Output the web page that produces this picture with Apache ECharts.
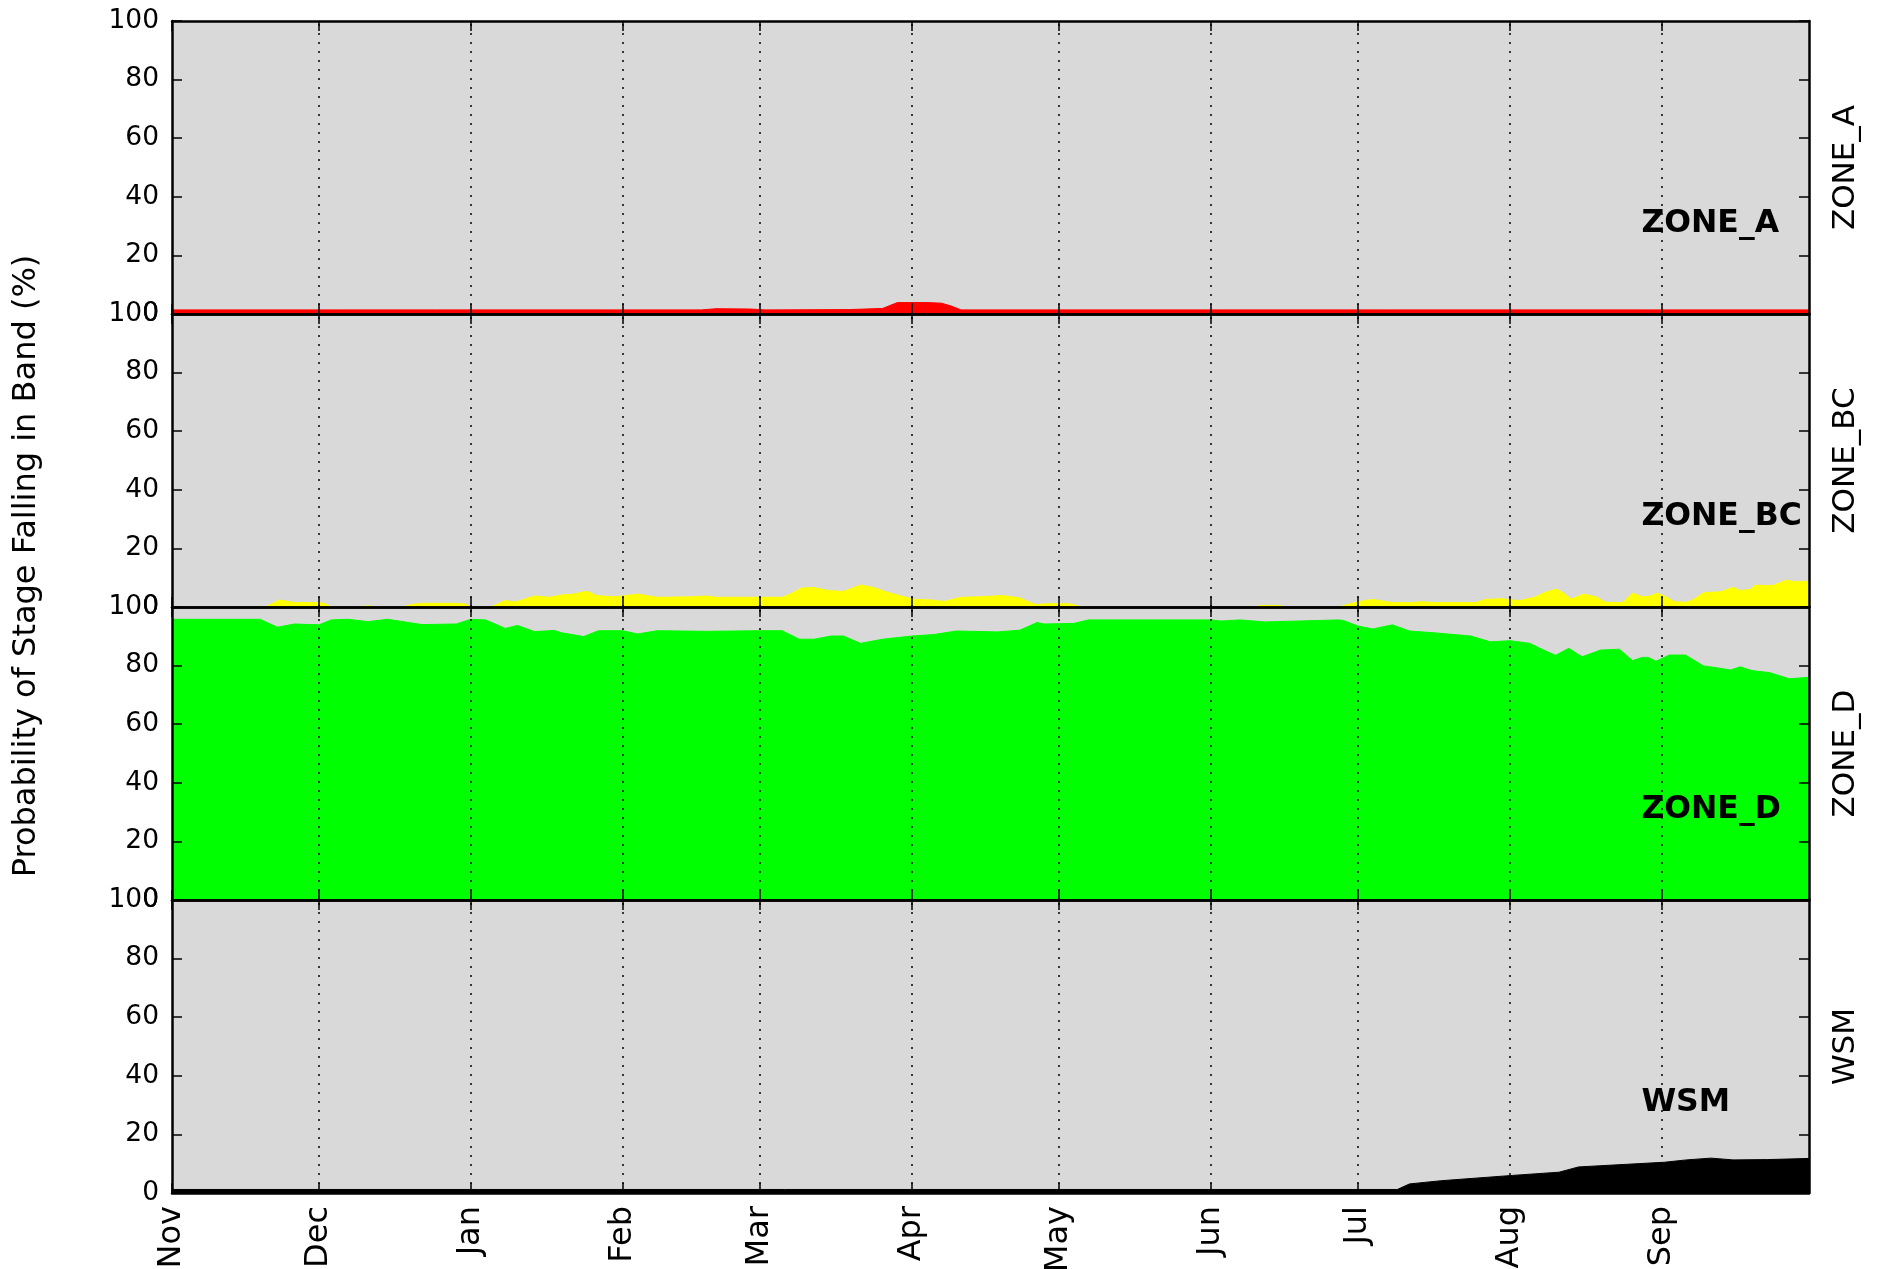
<!DOCTYPE html>
<html><head><meta charset="utf-8">
<script src="https://cdn.jsdelivr.net/npm/echarts@6/dist/echarts.min.js"></script>
<style>html,body{margin:0;padding:0;background:#fff}#c{width:1887px;height:1269px}</style>
</head><body><div id="c"></div>
<script>
// x axis: days counted from Nov 1 (non-leap year), ends Sep 30
const monthNames = ['Nov','Dec','Jan','Feb','Mar','Apr','May','Jun','Jul','Aug','Sep'];
const monthStartDays = [0,30,61,92,120,151,181,212,242,273,304];
const dayMax = 334;
const yTickValues = [0,20,40,60,80,100];

const zoneNames = ['ZONE_A','ZONE_BC','ZONE_D','WSM'];
const zoneColors = ['#ff0000','#ffff00','#00ff00','#000000'];

const zoneADays   = [0, 108, 111, 118, 121, 138, 145, 148, 154, 157, 159, 161, 334];
const zoneAValues = [1.4, 1.4, 1.8, 1.7, 1.4, 1.5, 1.9, 3.9, 3.9, 3.7, 2.7, 1.4, 1.4];

const zoneBCDays = [0, 19, 22, 25, 30, 31, 32.5, 38, 40, 42, 47, 49, 51, 58, 60, 61, 65, 68, 70, 71, 74, 77, 79.5, 82, 84, 85, 86.5, 90, 92, 95, 99, 106.5, 109, 111, 120, 124.5, 126.5, 128.5, 131, 134, 137, 140.5, 143, 146, 150, 151.5, 155, 157.5, 161, 165, 169.5, 173, 175.5, 176.5, 178, 183, 185, 186, 221, 222, 226, 227, 238, 242, 245, 249, 253, 255, 257.5, 266, 268, 271.5, 273.5, 275, 278, 280, 282.3, 283.5, 285.5, 288, 290.5, 292.5, 296, 298, 300, 301.5, 303, 304.5, 306.5, 309, 310.5, 312.5, 316, 318.5, 320, 322, 323, 326.5, 329.5, 331, 334];
const zoneBCValues = [0, 0, 2.4, 1.5, 1.5, 1.25, 0, 0, 0.4, 0, 0, 0.9, 1.25, 1.25, 1, 0, 0, 2.2, 1.7, 2.2, 3.75, 3.3, 4.1, 4.4, 5.2, 5.2, 3.9, 3.5, 3.75, 4.4, 3.3, 3.5, 3.75, 3.3, 3.3, 3.3, 4.7, 6.5, 6.6, 5.6, 5.3, 7.5, 6.7, 5, 3.2, 2.6, 2.4, 1.9, 3.3, 3.5, 3.9, 3.1, 1.25, 0.8, 1.1, 1.1, 0.3, 0, 0, 0.5, 0.5, 0, 0, 1.8, 2.6, 1.5, 1.5, 1.8, 1.5, 1.5, 2.6, 2.8, 2.4, 2.2, 3.3, 4.9, 6.1, 5.3, 2.7, 4.4, 3.5, 1.6, 1.5, 4.7, 3.5, 3.7, 4.7, 3.75, 1.8, 1.6, 2.6, 4.9, 5.2, 6.7, 5.6, 6, 7.4, 7.3, 9.2, 8.6, 8.8];

const zoneDDays = [0, 18, 21.5, 25, 30, 32.5, 36, 40, 44, 51, 58, 61, 64, 68, 70.5, 74, 78, 79.5, 84, 87, 92, 95, 99, 109, 120, 124.5, 128, 131, 134.5, 137, 140.5, 145, 151, 155.5, 160, 168.5, 173, 176.5, 178, 184, 187, 212, 214, 218, 223, 238, 239, 242, 245, 249, 252.5, 257.5, 265, 269, 273, 277, 279.5, 282.3, 285, 287.7, 291.5, 295.3, 298, 300, 301.2, 302.8, 305.5, 308.8, 312.5, 315.8, 318, 320, 322.3, 326, 330, 334];
const zoneDValues = [95.8, 95.8, 93.1, 94.2, 93.9, 95.6, 95.8, 95, 95.8, 94, 94.2, 95.8, 95.6, 92.7, 93.7, 91.6, 92, 91.2, 89.9, 91.9, 91.9, 90.8, 91.9, 91.7, 91.9, 91.9, 89, 89, 90.1, 90.1, 87.6, 89, 90.1, 90.6, 91.8, 91.5, 92.1, 94.7, 94.2, 94.4, 95.6, 95.6, 95.2, 95.6, 94.9, 95.6, 95.4, 93.5, 92.5, 93.9, 91.8, 91.2, 90.1, 88.1, 88.5, 87.6, 85.6, 83.5, 85.9, 83, 85.3, 85.6, 81.7, 82.8, 82.8, 81.5, 83.6, 83.6, 79.9, 79.1, 78.5, 79.6, 78.3, 77.6, 75.5, 76];

const wsmDays   = [0, 250, 252.5, 259, 273.5, 283, 287, 304.5, 309, 314, 318.5, 325.5, 334];
const wsmValues = [1.2, 1.2, 3.1, 4.2, 6, 7.1, 8.9, 10.5, 11.3, 11.9, 11.3, 11.4, 11.8];

const labelDay = 299.8;
const labelValue = 30.8;
const yAxisTitle = 'Probability of Stage Falling in Band (%)';

const panels = [
  {name: zoneNames[0], color: zoneColors[0], days: zoneADays, values: zoneAValues},
  {name: zoneNames[1], color: zoneColors[1], days: zoneBCDays, values: zoneBCValues},
  {name: zoneNames[2], color: zoneColors[2], days: zoneDDays, values: zoneDValues},
  {name: zoneNames[3], color: zoneColors[3], days: wsmDays, values: wsmValues}
];

const FONT = 'DejaVu Sans';
const top0 = 21, ph = 293;
const grids = [], xAxes = [], yAxes = [], series = [];
const frameLine = {show: true, onZero: false, lineStyle: {color: '#000', width: 2.5}};
const tickStyle = {color: '#000', width: 1.5};

panels.forEach((p, i) => {
  grids.push({left: 172, right: 78, top: top0 + i * ph, height: ph, show: true,
    containLabel: false, outerBoundsMode: 'none',
    backgroundColor: '#d9d9d9', borderWidth: 0});
  const monthLabel = v => { const k = monthStartDays.indexOf(Math.round(v)); return k >= 0 ? monthNames[k] : ''; };
  xAxes.push({type: 'value', gridIndex: i, min: 0, max: dayMax, position: 'bottom', z: 5,
    axisLine: frameLine,
    axisTick: {show: true, inside: true, length: 10, customValues: monthStartDays, lineStyle: tickStyle},
    axisLabel: {show: i === 3, customValues: monthStartDays, rotate: 90, formatter: monthLabel,
      fontSize: 32, color: '#000', fontFamily: FONT, margin: 13},
    splitLine: {show: false}});
  xAxes.push({type: 'value', gridIndex: i, min: 0, max: dayMax, position: 'top', z: 5,
    axisLine: frameLine,
    axisTick: {show: true, inside: true, length: 10, customValues: monthStartDays, lineStyle: tickStyle},
    axisLabel: {show: false}, splitLine: {show: false}});
  yAxes.push({type: 'value', gridIndex: i, min: 0, max: 100, interval: 20, position: 'left', z: 5,
    axisLine: frameLine,
    axisTick: {show: true, inside: true, length: 10, lineStyle: tickStyle},
    axisLabel: {show: true, fontSize: 26.5, color: '#000', fontFamily: FONT, margin: 13,
      showMinLabel: true, showMaxLabel: true},
    splitLine: {show: false}});
  yAxes.push({type: 'value', gridIndex: i, min: 0, max: 100, interval: 20, position: 'right', z: 5,
    axisLine: frameLine,
    axisTick: {show: true, inside: true, length: 10, lineStyle: tickStyle},
    axisLabel: {show: false}, splitLine: {show: false},
    name: p.name, nameLocation: 'middle', nameRotate: 90, nameGap: 21,
    nameTextStyle: {fontSize: 31, color: '#000', fontFamily: FONT}});
  series.push({
    type: 'line', name: p.name, xAxisIndex: 2 * i, yAxisIndex: 2 * i,
    data: p.days.map((d, k) => [d, p.values[k]]),
    symbol: 'none', showSymbol: false, smooth: false,
    lineStyle: {color: p.color, width: 1}, itemStyle: {color: p.color},
    areaStyle: {color: p.color, opacity: 1},
    z: 2,
    markLine: {silent: true, symbol: 'none', animation: false,
      label: {show: false},
      lineStyle: {type: [2, 7], color: '#000', width: 1.5},
      data: monthStartDays.slice(1).map(d => ({xAxis: d}))},
    markPoint: {symbol: 'circle', symbolSize: 0, silent: true, animation: false,
      data: [{coord: [labelDay, labelValue], value: p.name}],
      label: {show: true, position: [0, 0], align: 'left', verticalAlign: 'middle',
        formatter: p.name, fontSize: 31.5, fontWeight: 'bold', color: '#000', fontFamily: FONT}}
  });
});

const chart = echarts.init(document.getElementById('c'), null, {renderer: 'canvas'});
chart.setOption({
  animation: false,
  backgroundColor: '#ffffff',
  grid: grids, xAxis: xAxes, yAxis: yAxes, series: series,
  graphic: [{type: 'text', x: 27, y: 566, rotation: Math.PI / 2,
    style: {text: yAxisTitle, fontSize: 32, fill: '#000', fontFamily: FONT,
      align: 'center', verticalAlign: 'middle'}}]
});
</script></body></html>
